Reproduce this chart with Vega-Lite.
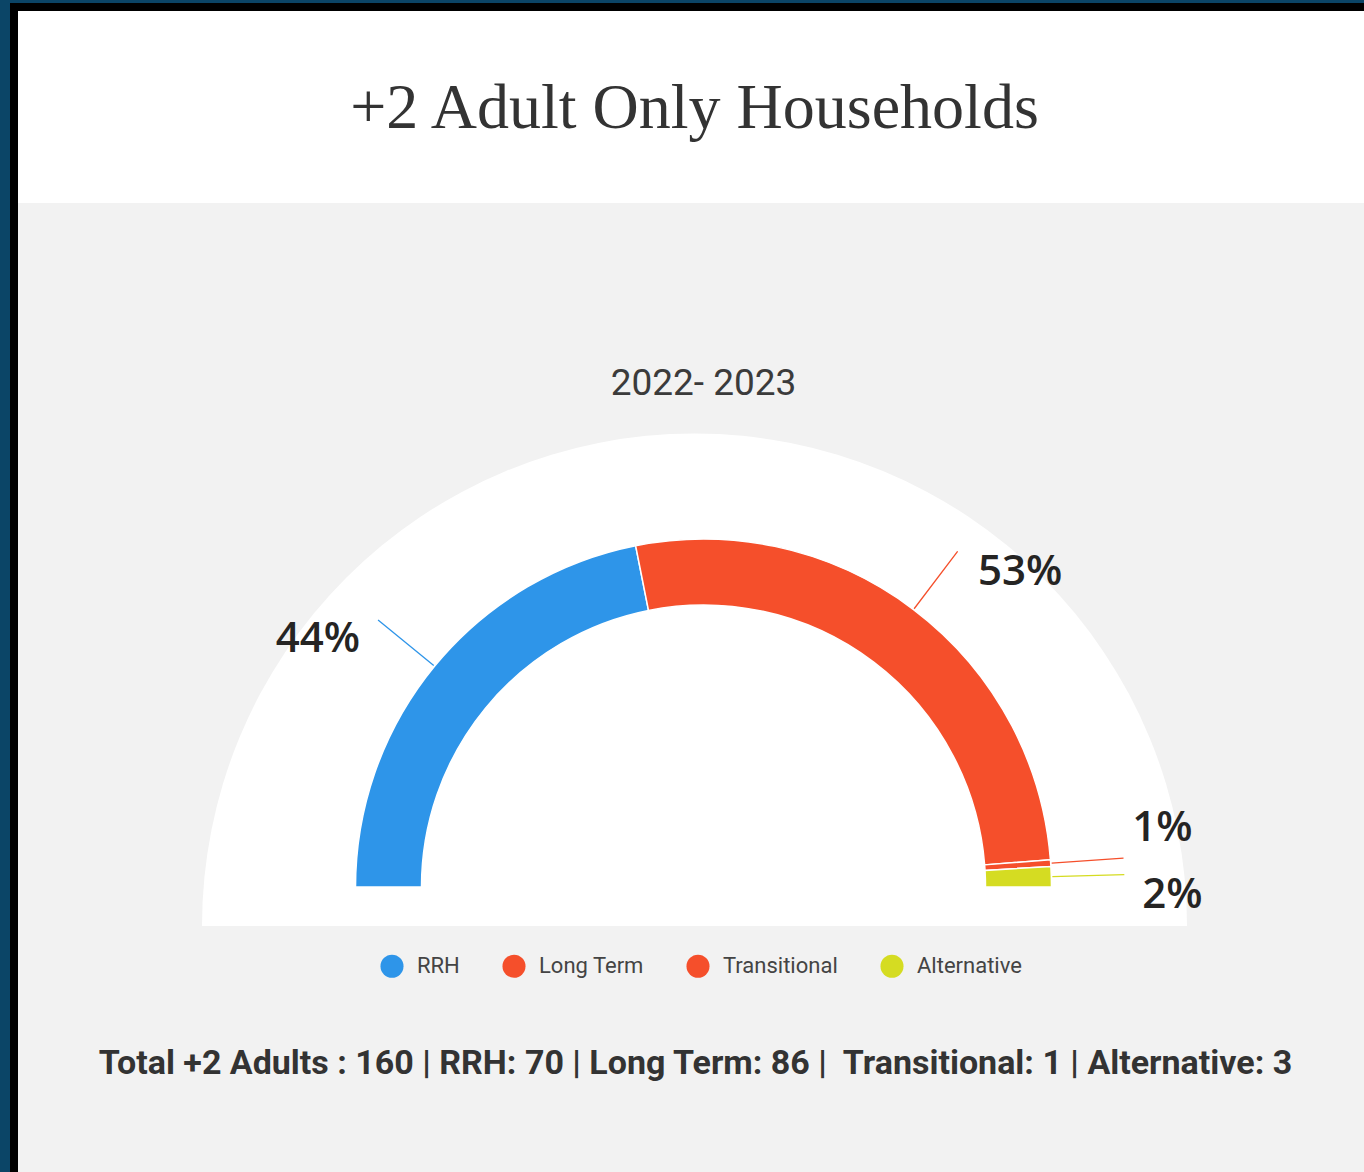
{
  "$schema": "https://vega.github.io/schema/vega-lite/v6.json",
  "background": "#0b4567",
  "padding": {"left": 10, "top": 3, "right": 0, "bottom": 0},
  "config": {"view": {"stroke": null}},
  "spacing": 0,
  "bounds": "flush",
  "hconcat": [
    {
      "width": 8,
      "height": 1169,
      "view": {"fill": "#000000", "stroke": null},
      "data": {"values": []},
      "mark": "point"
    },
    {
      "spacing": 0,
      "bounds": "flush",
      "vconcat": [
        {
          "width": 1346,
          "height": 8,
          "view": {"fill": "#000000", "stroke": null},
          "data": {"values": []},
          "mark": "point"
        },
        {
          "width": 1346,
          "height": 192,
          "view": {"fill": "#ffffff", "stroke": null},
          "data": {"values": [{"title": "+2 Adult Only Households"}]},
          "mark": {"type": "text", "font": "Liberation Serif", "fontSize": 64, "fill": "#333333", "baseline": "alphabetic", "align": "center", "dx": 3.5, "dy": 21},
          "encoding": {"text": {"field": "title", "type": "nominal"}}
        },
        {
          "width": 1346,
          "height": 969,
          "view": {"fill": "#f2f2f2", "stroke": null},
          "data": {
            "values": [
              {"category": "RRH", "value": 70, "rank": 1, "label": "44%"},
              {"category": "Long Term", "value": 86, "rank": 2, "label": "53%"},
              {"category": "Transitional", "value": 1, "rank": 3, "label": "1%"},
              {"category": "Alternative", "value": 3, "rank": 4, "label": "2%"}
            ]
          },
          "layer": [
            {
              "data": {"values": [{"shape": "background"}]},
              "mark": {"type": "arc", "theta": -1.5707963, "theta2": 1.5707963, "innerRadius": 0, "outerRadius": 492.5, "fill": "#ffffff", "x": 676.5, "y": 723},
              "encoding": {}
            },
            {
              "data": {"values": [{"t": "2022- 2023"}]},
              "mark": {"type": "text", "font": "Roboto", "fontSize": 37, "fill": "#3b3b3b", "baseline": "alphabetic", "align": "center", "dx": 12.5, "dy": -292.5},
              "encoding": {"text": {"field": "t", "type": "nominal"}}
            },
            {
              "mark": {"type": "arc", "innerRadius": 282, "outerRadius": 348, "stroke": "#ffffff", "strokeWidth": 1.5, "x": 685.5, "y": 684},
              "encoding": {
                "theta": {"field": "value", "type": "quantitative", "stack": true, "scale": {"range": [-1.5707963, 1.5707963]}},
                "order": {"field": "rank", "type": "quantitative"},
                "color": {
                  "field": "category",
                  "type": "nominal",
                  "scale": {"domain": ["RRH", "Long Term", "Transitional", "Alternative"], "range": ["#2e95e9", "#f54f2b", "#f54f2b", "#d5dc22"]},
                  "legend": {
                    "title": null,
                    "orient": "none",
                    "legendX": 370,
                    "legendY": 951,
                    "direction": "horizontal",
                    "symbolType": "circle",
                    "symbolSize": 530,
                    "symbolStrokeWidth": 0,
                    "labelFont": "Roboto",
                    "labelFontSize": 22,
                    "labelColor": "#444444",
                    "labelOffset": 13,
                    "columnPadding": 42,
                    "padding": 0
                  }
                }
              }
            },
            {
              "mark": {"type": "arc", "innerRadius": 349, "outerRadius": 421, "padAngle": 3.14, "filled": false, "strokeWidth": 1.3, "x": 685.5, "y": 684},
              "encoding": {
                "theta": {"field": "value", "type": "quantitative", "stack": true},
                "order": {"field": "rank", "type": "quantitative"},
                "color": {"field": "category", "type": "nominal", "legend": null}
              }
            },
            {
              "mark": {"type": "text", "radius": 460, "font": "Open Sans", "fontWeight": 600, "fontSize": 42, "fill": "#252423", "align": "center", "baseline": "middle", "dx": -30, "dy": 44, "x": 685.5, "y": 684},
              "encoding": {
                "theta": {"field": "value", "type": "quantitative", "stack": true},
                "order": {"field": "rank", "type": "quantitative"},
                "text": {"condition": {"test": "datum.category === 'RRH'", "field": "label", "type": "nominal"}, "value": ""}
              }
            },
            {
              "mark": {"type": "text", "radius": 460, "font": "Open Sans", "fontWeight": 600, "fontSize": 42, "fill": "#252423", "align": "center", "baseline": "middle", "dx": 39, "dy": 52, "x": 685.5, "y": 684},
              "encoding": {
                "theta": {"field": "value", "type": "quantitative", "stack": true},
                "order": {"field": "rank", "type": "quantitative"},
                "text": {"condition": {"test": "datum.category === 'Long Term'", "field": "label", "type": "nominal"}, "value": ""}
              }
            },
            {
              "mark": {"type": "text", "radius": 460, "font": "Open Sans", "fontWeight": 600, "fontSize": 42, "fill": "#252423", "align": "center", "baseline": "middle", "dx": 0, "dy": -27, "x": 685.5, "y": 684},
              "encoding": {
                "theta": {"field": "value", "type": "quantitative", "stack": true},
                "order": {"field": "rank", "type": "quantitative"},
                "text": {"condition": {"test": "datum.category === 'Transitional'", "field": "label", "type": "nominal"}, "value": ""}
              }
            },
            {
              "mark": {"type": "text", "radius": 460, "font": "Open Sans", "fontWeight": 600, "fontSize": 42, "fill": "#252423", "align": "center", "baseline": "middle", "dx": 9, "dy": 22, "x": 685.5, "y": 684},
              "encoding": {
                "theta": {"field": "value", "type": "quantitative", "stack": true},
                "order": {"field": "rank", "type": "quantitative"},
                "text": {"condition": {"test": "datum.category === 'Alternative'", "field": "label", "type": "nominal"}, "value": ""}
              }
            },
            {
              "data": {"values": [{"t": "Total +2 Adults : 160 | RRH: 70 | Long Term: 86 |\u00a0 Transitional: 1 | Alternative: 3"}]},
              "mark": {"type": "text", "font": "Roboto", "fontWeight": "bold", "fontSize": 34, "fill": "#333333", "baseline": "alphabetic", "align": "center", "dx": 4.5, "dy": 386.5},
              "encoding": {"text": {"field": "t", "type": "nominal"}}
            }
          ]
        }
      ]
    }
  ]
}
